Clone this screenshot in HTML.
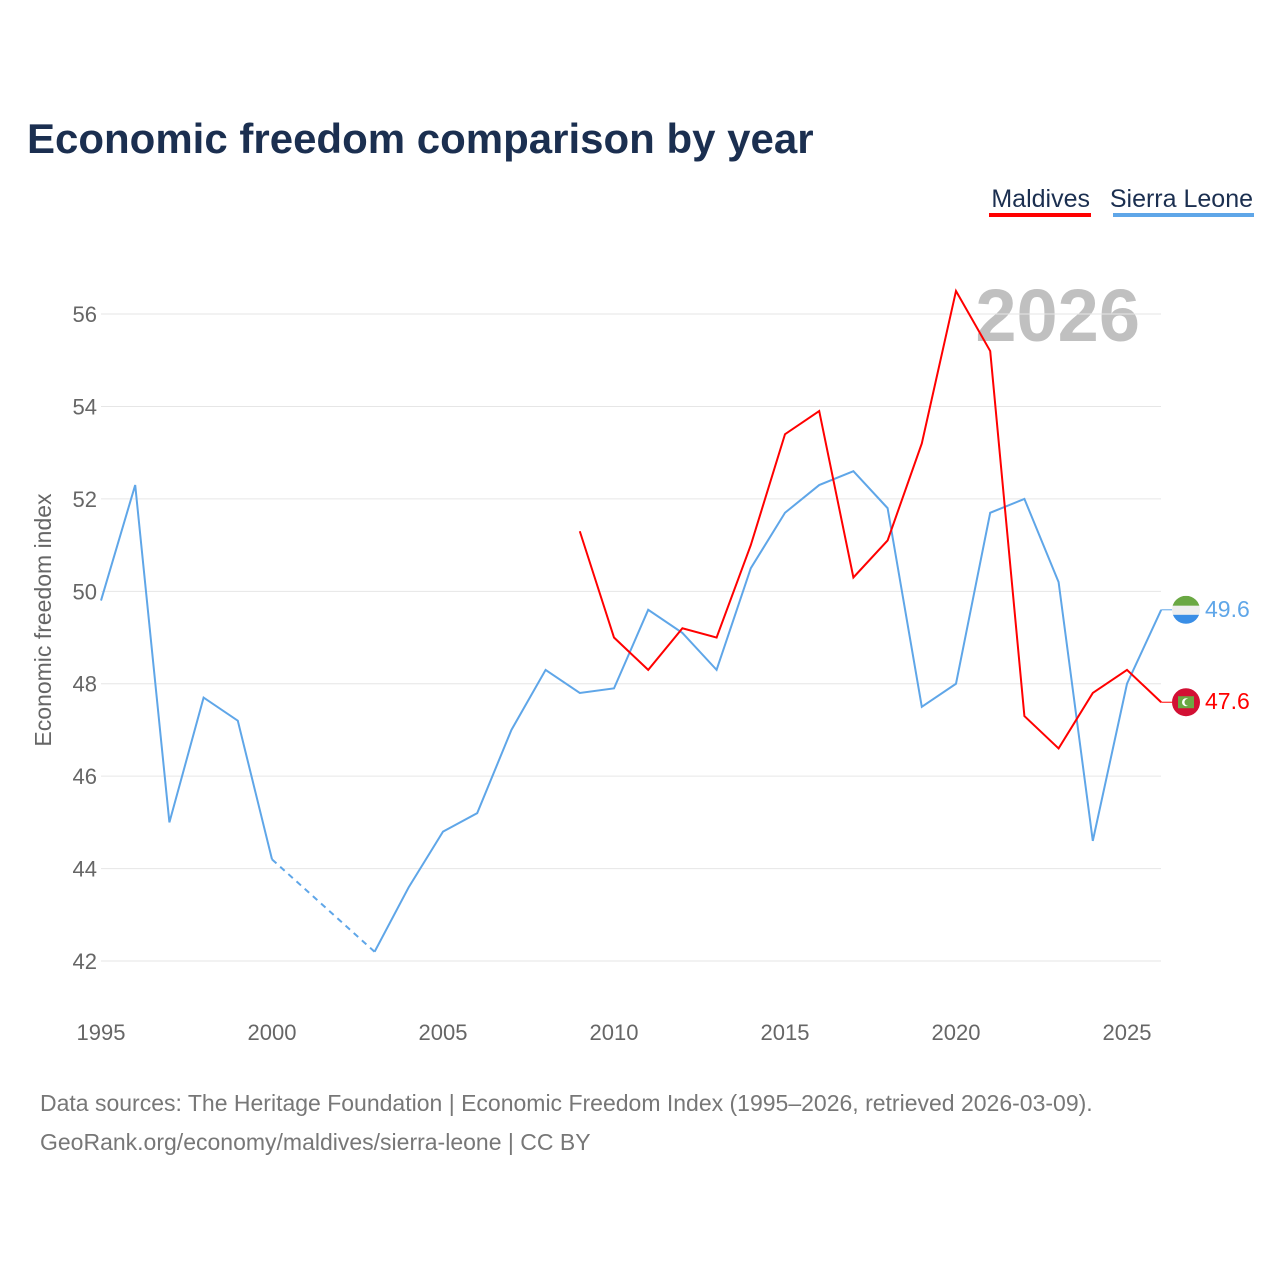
<!DOCTYPE html>
<html><head><meta charset="utf-8"><style>
body{margin:0;background:#fff;font-family:"Liberation Sans",sans-serif;}
</style></head><body>
<svg id="chart" width="1280" height="1280" viewBox="0 0 1280 1280">
<text x="27" y="153" font-size="42" font-weight="bold" fill="#1b2f50">Economic freedom comparison by year</text>
<g><text x="1090" y="207" text-anchor="end" font-size="25" fill="#1b2f50">Maldives</text><rect x="989" y="213" width="102" height="4" fill="#ff0000"/></g>
<g><text x="1253" y="207" text-anchor="end" font-size="25" fill="#1b2f50">Sierra Leone</text><rect x="1113" y="213" width="141" height="4" fill="#5fa6e8"/></g>
<text x="1140" y="341" text-anchor="end" font-size="74" font-weight="bold" fill="#c0c0c0">2026</text>
<g id="grid"></g><g id="series"></g>
<text transform="translate(51,620) rotate(-90)" text-anchor="middle" font-size="23" fill="#666">Economic freedom index</text>
<text x="40" y="1111" font-size="23" fill="#777">Data sources: The Heritage Foundation | Economic Freedom Index (1995–2026, retrieved 2026-03-09).</text>
<text x="40" y="1150" font-size="23" fill="#777">GeoRank.org/economy/maldives/sierra-leone | CC BY</text>
</svg>
<script>
const years=[1995,1996,1997,1998,1999,2000,2001,2002,2003,2004,2005,2006,2007,2008,2009,2010,2011,2012,2013,2014,2015,2016,2017,2018,2019,2020,2021,2022,2023,2024,2025,2026];
const sierraLeone=[49.8,52.3,45.0,47.7,47.2,44.2,null,null,42.2,43.6,44.8,45.2,47.0,48.3,47.8,47.9,49.6,49.1,48.3,50.5,51.7,52.3,52.6,51.8,47.5,48.0,51.7,52.0,50.2,44.6,48.0,49.6];
const maldives=[null,null,null,null,null,null,null,null,null,null,null,null,null,null,51.3,49.0,48.3,49.2,49.0,51.0,53.4,53.9,50.3,51.1,53.2,56.5,55.2,47.3,46.6,47.8,48.3,47.6];
const yTicks=[42,44,46,48,50,52,54,56];
const xTicks=[1995,2000,2005,2010,2015,2020,2025];
const X=y=>101+(y-1995)*34.2;
const Y=v=>961-(v-42)*46.21;
const NS="http://www.w3.org/2000/svg";
const grid=document.getElementById('grid'),ser=document.getElementById('series');
function mk(tag,attrs,parent){const e=document.createElementNS(NS,tag);for(const k in attrs)e.setAttribute(k,attrs[k]);parent.appendChild(e);return e;}
yTicks.forEach(t=>{
 const l=mk('line',{x1:101,x2:1161,y1:Y(t),y2:Y(t),stroke:'#e6e6e6','stroke-width':1},grid);
 
 
 const tx=mk('text',{x:97,y:Y(t)+8,'text-anchor':'end','font-size':22,fill:'#666'},grid);tx.textContent=t;
 
 
});
xTicks.forEach(t=>{
 const tx=mk('text',{x:X(t),y:1040,'text-anchor':'middle','font-size':22,fill:'#666'},grid);tx.textContent=t;
 
 
});
function draw(vals,color,name){
 let segs=[],cur=[],gaps=[],last=null;
 vals.forEach((v,i)=>{
  if(v==null){if(cur.length)segs.push(cur);cur=[];return;}
  if(cur.length===0&&last!=null&&i-last>1)gaps.push([last,i]);
  cur.push([X(years[i]),Y(v)]);last=i;
 });
 if(cur.length)segs.push(cur);
 segs.forEach(s=>{const p=mk('polyline',{points:s.map(a=>a.join(',')).join(' '),fill:'none',stroke:color,'stroke-width':2},ser);
  
  });
 gaps.forEach(([a,b])=>{const g=mk('line',{x1:X(years[a]),y1:Y(vals[a]),x2:X(years[b]),y2:Y(vals[b]),stroke:color,'stroke-width':2,'stroke-dasharray':'6,5'},ser);
  
  });
 const i=vals.length-1,v=vals[i];
 mk('line',{x1:X(years[i]),y1:Y(v),x2:1172,y2:Y(v),stroke:color,'stroke-width':1},ser);
 return Y(v);
}
const ys=draw(sierraLeone,'#5fa6e8','sierra-leone');
const ym=draw(maldives,'#ff0000','maldives');
const fs=mk('g',{},ser);


const cp=mk('clipPath',{id:'c1'},fs);
mk('circle',{cx:1186,cy:ys,r:14},cp);
mk('rect',{x:1172,y:ys-14,width:28,height:10,fill:'#6aa843','clip-path':'url(#c1)'},fs);
mk('rect',{x:1172,y:ys-4,width:28,height:9,fill:'#eee','clip-path':'url(#c1)'},fs);
mk('rect',{x:1172,y:ys+5,width:28,height:10,fill:'#3a8ee6','clip-path':'url(#c1)'},fs);
const fm=mk('g',{},ser);


mk('circle',{cx:1186,cy:ym,r:14,fill:'#d21034'},fm);
mk('rect',{x:1178,y:ym-6,width:16,height:12,fill:'#6aa843'},fm);
mk('circle',{cx:1186,cy:ym,r:4,fill:'#fff'},fm);
mk('circle',{cx:1188,cy:ym,r:3.5,fill:'#6aa843'},fm);
const ls=mk('text',{x:1205,y:ys+7,'font-size':23,fill:'#5fa6e8'},ser);ls.textContent=sierraLeone[sierraLeone.length-1].toFixed(1);


const lm=mk('text',{x:1205,y:ym+7,'font-size':23,fill:'#ff0000'},ser);lm.textContent=maldives[maldives.length-1].toFixed(1);


</script>
</body></html>
